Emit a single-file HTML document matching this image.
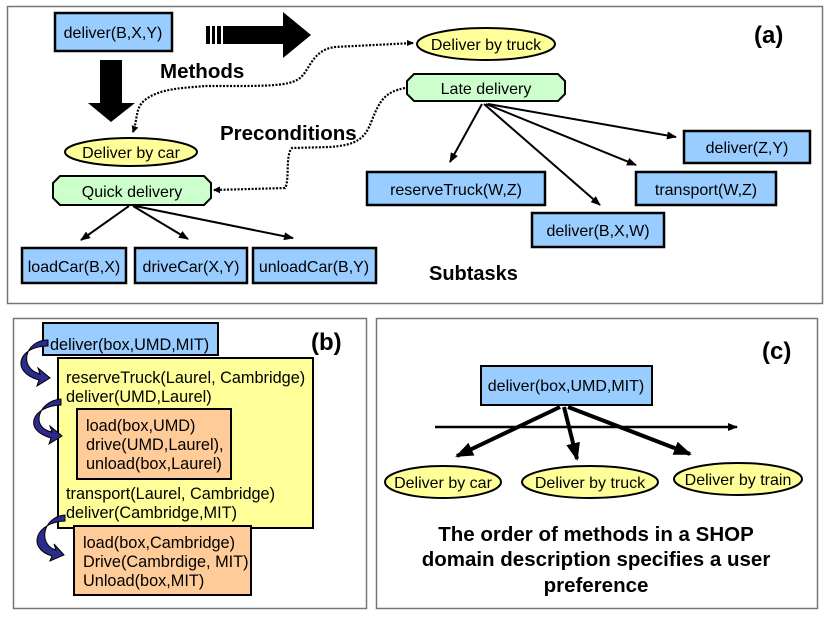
<!DOCTYPE html>
<html><head><meta charset="utf-8"><style>
html,body{margin:0;padding:0;background:#fff;}
svg{display:block;font-family:"Liberation Sans",Arial,sans-serif;}
</style></head><body>
<svg width="830" height="623" viewBox="0 0 830 623" xmlns="http://www.w3.org/2000/svg">
<defs>
<marker id="ah" markerWidth="10" markerHeight="8" refX="9" refY="4" orient="auto" markerUnits="userSpaceOnUse"><path d="M0,0 L10,4 L0,8 Z" fill="#000"/></marker>
<marker id="ahs" markerWidth="7" markerHeight="7" refX="6" refY="3.5" orient="auto" markerUnits="userSpaceOnUse"><path d="M0,0 L7,3.5 L0,7 Z" fill="#000"/></marker>
<marker id="ahb" markerWidth="18" markerHeight="14" refX="16" refY="7" orient="auto" markerUnits="userSpaceOnUse"><path d="M0,0 L18,7 L0,14 Z" fill="#000"/></marker>
</defs>
<!-- panels -->
<rect x="7.5" y="6.5" width="815" height="297" fill="#fff" stroke="#777" stroke-width="1.5"/>
<rect x="13.5" y="318.5" width="353" height="290" fill="#fff" stroke="#777" stroke-width="1.5"/>
<rect x="376.5" y="318.5" width="441" height="290" fill="#fff" stroke="#777" stroke-width="1.5"/>

<!-- panel a -->
<rect x="55" y="13" width="117" height="38" fill="#99ccff" stroke="#000" stroke-width="2.5"/>
<text x="113" y="38" font-size="16" text-anchor="middle">deliver(B,X,Y)</text>
<rect x="206" y="26" width="4" height="18" fill="#000"/><rect x="212" y="26" width="3" height="18" fill="#000"/><rect x="217" y="26" width="4" height="18" fill="#000"/>
<polygon points="223,26 283,26 283,12 311,35 283,58 283,44 223,44" fill="#000"/>
<polygon points="100,60 122,60 122,103 135,103 111,122 88,103 100,103" fill="#000"/>
<text x="160" y="78" font-size="20.5" font-weight="bold">Methods</text>
<text x="220" y="140" font-size="20.5" font-weight="bold">Preconditions</text>
<text x="429" y="280" font-size="20" font-weight="bold">Subtasks</text>
<text x="754" y="43" font-size="24" font-weight="bold">(a)</text>

<ellipse cx="131" cy="152" rx="66" ry="14" fill="#ffff99" stroke="#000" stroke-width="2"/>
<text x="131" y="158" font-size="16" text-anchor="middle">Deliver by car</text>
<polygon points="60,176 204,176 211,183 211,198 204,205 60,205 53,198 53,183" fill="#ccffcc" stroke="#000" stroke-width="2"/>
<text x="132" y="197" font-size="16" text-anchor="middle">Quick delivery</text>

<g stroke="#000" stroke-width="2" fill="none">
<line x1="129" y1="206" x2="81" y2="240" marker-end="url(#ah)"/>
<line x1="133" y1="206" x2="188" y2="239" marker-end="url(#ah)"/>
<line x1="135" y1="206" x2="293" y2="238" marker-end="url(#ah)"/>
</g>
<rect x="22" y="248" width="104" height="35" fill="#99ccff" stroke="#000" stroke-width="2.5"/>
<text x="74" y="272" font-size="16" text-anchor="middle">loadCar(B,X)</text>
<rect x="135" y="248" width="112" height="35" fill="#99ccff" stroke="#000" stroke-width="2.5"/>
<text x="191" y="272" font-size="16" text-anchor="middle">driveCar(X,Y)</text>
<rect x="253" y="248" width="123" height="35" fill="#99ccff" stroke="#000" stroke-width="2.5"/>
<text x="314" y="272" font-size="16" text-anchor="middle">unloadCar(B,Y)</text>

<ellipse cx="486" cy="44" rx="69" ry="16" fill="#ffff99" stroke="#000" stroke-width="2"/>
<text x="486" y="50" font-size="16" text-anchor="middle">Deliver by truck</text>
<polygon points="414,74 558,74 565,81 565,94 558,101 414,101 407,94 407,81" fill="#ccffcc" stroke="#000" stroke-width="2"/>
<text x="486" y="94" font-size="16" text-anchor="middle">Late delivery</text>

<g stroke="#000" stroke-width="2" fill="none">
<line x1="482" y1="104" x2="450" y2="162" marker-end="url(#ah)"/>
<line x1="484" y1="104" x2="600" y2="205" marker-end="url(#ah)"/>
<line x1="486" y1="104" x2="636" y2="165" marker-end="url(#ah)"/>
<line x1="488" y1="104" x2="676" y2="137" marker-end="url(#ah)"/>
</g>
<rect x="367" y="172" width="178" height="33" fill="#99ccff" stroke="#000" stroke-width="2.5"/>
<text x="456" y="195" font-size="16" text-anchor="middle">reserveTruck(W,Z)</text>
<rect x="532" y="213" width="132" height="34" fill="#99ccff" stroke="#000" stroke-width="2.5"/>
<text x="598" y="236" font-size="16" text-anchor="middle">deliver(B,X,W)</text>
<rect x="636" y="172" width="140" height="33" fill="#99ccff" stroke="#000" stroke-width="2.5"/>
<text x="706" y="195" font-size="16" text-anchor="middle">transport(W,Z)</text>
<rect x="684" y="131" width="126" height="32" fill="#99ccff" stroke="#000" stroke-width="2.5"/>
<text x="747" y="153" font-size="16" text-anchor="middle">deliver(Z,Y)</text>

<g stroke="#000" stroke-width="2.2" stroke-dasharray="2,1.5" fill="none">
<path d="M413,43 L335,47 C312,50 310,70 300,78 C292,84 280,86 240,86 L205,86 C185,88 160,88 145,100 C135,108 138,118 133,132" marker-end="url(#ahs)"/>
<path d="M405,88 C385,92 380,100 372,120 C365,140 355,145 330,147 L292,148 C285,155 290,180 285,188 L214,190" marker-end="url(#ahs)"/>
</g>
<polygon points="407,40 414,43 407,46" fill="#000"/>

<!-- panel b -->
<rect x="43" y="323" width="175" height="32" fill="#99ccff" stroke="#000" stroke-width="2"/>
<rect x="58" y="358" width="255" height="170" fill="#ffff99" stroke="#000" stroke-width="2"/>
<rect x="77" y="409" width="154" height="70" fill="#ffcc99" stroke="#000" stroke-width="2"/>
<rect x="74" y="526" width="177" height="69" fill="#ffcc99" stroke="#000" stroke-width="2"/>
<g font-size="16.3">
<text x="50" y="350">deliver(box,UMD,MIT)</text>
<text x="66" y="383">reserveTruck(Laurel, Cambridge)</text>
<text x="66" y="402">deliver(UMD,Laurel)</text>
<text x="86" y="431">load(box,UMD)</text>
<text x="86" y="450">drive(UMD,Laurel),</text>
<text x="86" y="469">unload(box,Laurel)</text>
<text x="66" y="499">transport(Laurel, Cambridge)</text>
<text x="66" y="518">deliver(Cambridge,MIT)</text>
<text x="83" y="548">load(box,Cambridge)</text>
<text x="83" y="567">Drive(Cambrdige, MIT)</text>
<text x="83" y="586">Unload(box,MIT)</text>
</g>
<text x="311" y="350" font-size="24" font-weight="bold">(b)</text>
<g fill="#2b2b8c" stroke="#000" stroke-width="1">
<path d="M48,340 C25,340 18,368 40,374 L38,368 L50,378 L37,386 L39,380 C10,372 18,346 48,346 Z"/>
<path d="M61,399 C38,401 30,428 52,432 L50,426 L62,436 L49,444 L51,438 C22,430 32,406 61,405 Z"/>
<path d="M65,515 C42,517 38,545 56,550 L54,544 L64,555 L50,561 L52,556 C26,548 36,522 65,521 Z"/>
</g>

<!-- panel c -->
<text x="762" y="359" font-size="24" font-weight="bold">(c)</text>
<rect x="481" y="366" width="171" height="39" fill="#99ccff" stroke="#000" stroke-width="2"/>
<text x="566" y="391" font-size="16" text-anchor="middle">deliver(box,UMD,MIT)</text>
<line x1="435" y1="427" x2="737" y2="427" stroke="#000" stroke-width="2.5" marker-end="url(#ah)"/>
<g stroke="#000" stroke-width="4" fill="none">
<line x1="560" y1="407" x2="457" y2="456" marker-end="url(#ahb)"/>
<line x1="564" y1="407" x2="577" y2="459" marker-end="url(#ahb)"/>
<line x1="568" y1="407" x2="690" y2="454" marker-end="url(#ahb)"/>
</g>
<ellipse cx="443" cy="482" rx="58" ry="16" fill="#ffff99" stroke="#000" stroke-width="2"/>
<text x="443" y="488" font-size="16" text-anchor="middle">Deliver by car</text>
<ellipse cx="590" cy="482" rx="68" ry="16" fill="#ffff99" stroke="#000" stroke-width="2"/>
<text x="590" y="488" font-size="16" text-anchor="middle">Deliver by truck</text>
<ellipse cx="738" cy="479" rx="64" ry="16" fill="#ffff99" stroke="#000" stroke-width="2"/>
<text x="738" y="485" font-size="16" text-anchor="middle">Deliver by train</text>
<g font-size="20.5" font-weight="bold" text-anchor="middle">
<text x="596" y="541">The order of methods in a SHOP</text>
<text x="596" y="566">domain description specifies a user</text>
<text x="596" y="592">preference</text>
</g>
</svg>
</body></html>
